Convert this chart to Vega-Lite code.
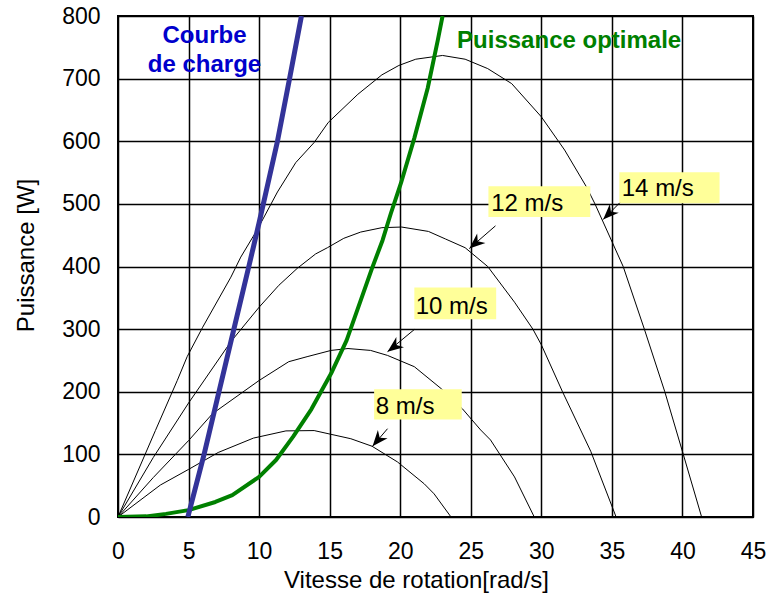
{
  "$schema": "https://vega.github.io/schema/vega-lite/v6.json",
  "width": 635,
  "height": 501,
  "autosize": {"type": "none"},
  "padding": {"left": 118, "top": 16, "right": 20, "bottom": 78},
  "background": "white",
  "config": {
    "font": "Liberation Sans",
    "view": {"stroke": "black", "strokeWidth": 2},
    "axis": {
      "grid": true, "gridColor": "black", "gridOpacity": 1, "gridWidth": 1.5,
      "domain": false, "ticks": false, "tickSize": 0,
      "labelFont": "Liberation Sans", "labelFontSize": 23, "labelColor": "black",
      "titleFont": "Liberation Sans", "titleFontSize": 24, "titleFontWeight": "normal", "titleColor": "black"
    }
  },
  "datasets": {
    "courbes": [
      {"serie": "8 m/s", "w": 0, "p": 0}, {"serie": "8 m/s", "w": 3.0, "p": 51}, {"serie": "8 m/s", "w": 5, "p": 76},
      {"serie": "8 m/s", "w": 7.1, "p": 103}, {"serie": "8 m/s", "w": 9.6, "p": 126}, {"serie": "8 m/s", "w": 11.9, "p": 137.5},
      {"serie": "8 m/s", "w": 13.9, "p": 138}, {"serie": "8 m/s", "w": 16.5, "p": 125}, {"serie": "8 m/s", "w": 18.0, "p": 113},
      {"serie": "8 m/s", "w": 19.8, "p": 88}, {"serie": "8 m/s", "w": 21.7, "p": 53}, {"serie": "8 m/s", "w": 22.4, "p": 37},
      {"serie": "8 m/s", "w": 23.6, "p": 0},

      {"serie": "10 m/s", "w": 0, "p": 0}, {"serie": "10 m/s", "w": 2.5, "p": 63}, {"serie": "10 m/s", "w": 5, "p": 122},
      {"serie": "10 m/s", "w": 6.7, "p": 165}, {"serie": "10 m/s", "w": 10, "p": 218}, {"serie": "10 m/s", "w": 12.1, "p": 248},
      {"serie": "10 m/s", "w": 13.4, "p": 256}, {"serie": "10 m/s", "w": 15.1, "p": 266}, {"serie": "10 m/s", "w": 16.3, "p": 269},
      {"serie": "10 m/s", "w": 17.9, "p": 266}, {"serie": "10 m/s", "w": 19.1, "p": 258}, {"serie": "10 m/s", "w": 21.0, "p": 240},
      {"serie": "10 m/s", "w": 22.9, "p": 205}, {"serie": "10 m/s", "w": 24.4, "p": 173}, {"serie": "10 m/s", "w": 25.7, "p": 139},
      {"serie": "10 m/s", "w": 26.4, "p": 123}, {"serie": "10 m/s", "w": 28.1, "p": 64}, {"serie": "10 m/s", "w": 29.5, "p": 0},

      {"serie": "12 m/s", "w": 0, "p": 0}, {"serie": "12 m/s", "w": 2.5, "p": 95}, {"serie": "12 m/s", "w": 5, "p": 182},
      {"serie": "12 m/s", "w": 8, "p": 280}, {"serie": "12 m/s", "w": 10, "p": 335}, {"serie": "12 m/s", "w": 11.4, "p": 370},
      {"serie": "12 m/s", "w": 12.7, "p": 397}, {"serie": "12 m/s", "w": 14.0, "p": 420}, {"serie": "12 m/s", "w": 14.84, "p": 430},
      {"serie": "12 m/s", "w": 16.0, "p": 445}, {"serie": "12 m/s", "w": 17.2, "p": 455}, {"serie": "12 m/s", "w": 18.7, "p": 462},
      {"serie": "12 m/s", "w": 20.1, "p": 463}, {"serie": "12 m/s", "w": 22.0, "p": 456}, {"serie": "12 m/s", "w": 23.2, "p": 444},
      {"serie": "12 m/s", "w": 24.6, "p": 430}, {"serie": "12 m/s", "w": 26.2, "p": 400}, {"serie": "12 m/s", "w": 28.1, "p": 343},
      {"serie": "12 m/s", "w": 29.4, "p": 300}, {"serie": "12 m/s", "w": 30.0, "p": 275}, {"serie": "12 m/s", "w": 31.5, "p": 200},
      {"serie": "12 m/s", "w": 33.5, "p": 105}, {"serie": "12 m/s", "w": 35.3, "p": 0},

      {"serie": "14 m/s", "w": 0, "p": 0}, {"serie": "14 m/s", "w": 2.65, "p": 138}, {"serie": "14 m/s", "w": 4.2, "p": 218},
      {"serie": "14 m/s", "w": 4.9, "p": 256}, {"serie": "14 m/s", "w": 6.0, "p": 303}, {"serie": "14 m/s", "w": 8.0, "p": 383},
      {"serie": "14 m/s", "w": 8.7, "p": 415}, {"serie": "14 m/s", "w": 9.9, "p": 460}, {"serie": "14 m/s", "w": 11.3, "p": 519},
      {"serie": "14 m/s", "w": 12.6, "p": 566}, {"serie": "14 m/s", "w": 13.9, "p": 598}, {"serie": "14 m/s", "w": 14.9, "p": 630},
      {"serie": "14 m/s", "w": 17.0, "p": 675}, {"serie": "14 m/s", "w": 18.7, "p": 706}, {"serie": "14 m/s", "w": 19.9, "p": 721},
      {"serie": "14 m/s", "w": 21.1, "p": 731}, {"serie": "14 m/s", "w": 23.0, "p": 737}, {"serie": "14 m/s", "w": 24.6, "p": 731},
      {"serie": "14 m/s", "w": 26.2, "p": 716}, {"serie": "14 m/s", "w": 27.9, "p": 692}, {"serie": "14 m/s", "w": 30.0, "p": 639},
      {"serie": "14 m/s", "w": 31.65, "p": 586}, {"serie": "14 m/s", "w": 33.2, "p": 527}, {"serie": "14 m/s", "w": 33.8, "p": 500},
      {"serie": "14 m/s", "w": 35.8, "p": 400}, {"serie": "14 m/s", "w": 37.3, "p": 300}, {"serie": "14 m/s", "w": 38.75, "p": 200},
      {"serie": "14 m/s", "w": 40.06, "p": 100}, {"serie": "14 m/s", "w": 41.36, "p": 0},

      {"serie": "Puissance optimale", "w": 0, "p": 0}, {"serie": "Puissance optimale", "w": 2, "p": 1},
      {"serie": "Puissance optimale", "w": 3.4, "p": 5}, {"serie": "Puissance optimale", "w": 5, "p": 11},
      {"serie": "Puissance optimale", "w": 6.9, "p": 24}, {"serie": "Puissance optimale", "w": 8.1, "p": 35},
      {"serie": "Puissance optimale", "w": 10, "p": 64}, {"serie": "Puissance optimale", "w": 11.2, "p": 91},
      {"serie": "Puissance optimale", "w": 12.4, "p": 128}, {"serie": "Puissance optimale", "w": 13.7, "p": 172},
      {"serie": "Puissance optimale", "w": 15.1, "p": 229}, {"serie": "Puissance optimale", "w": 16.2, "p": 282},
      {"serie": "Puissance optimale", "w": 18.0, "p": 397},
      {"serie": "Puissance optimale", "w": 18.75, "p": 442}, {"serie": "Puissance optimale", "w": 19.34, "p": 485},
      {"serie": "Puissance optimale", "w": 20.05, "p": 533}, {"serie": "Puissance optimale", "w": 21.0, "p": 605},
      {"serie": "Puissance optimale", "w": 21.95, "p": 685}, {"serie": "Puissance optimale", "w": 22.66, "p": 761},
      {"serie": "Puissance optimale", "w": 23.0, "p": 800},

      {"serie": "Courbe de charge", "w": 4.95, "p": 0}, {"serie": "Courbe de charge", "w": 6.1, "p": 100},
      {"serie": "Courbe de charge", "w": 8.0, "p": 280}, {"serie": "Courbe de charge", "w": 9.25, "p": 398},
      {"serie": "Courbe de charge", "w": 10.0, "p": 470}, {"serie": "Courbe de charge", "w": 11.3, "p": 600},
      {"serie": "Courbe de charge", "w": 12.2, "p": 705}, {"serie": "Courbe de charge", "w": 13.0, "p": 800}
    ],
    "etiquettes": [
      {"label": "14 m/s", "x1": 35.53, "x2": 42.63, "y1": 500.8, "y2": 550.3, "tx": 35.7, "ty": 512, "ax": 35.55, "ay": 501.6, "hx": 34.38, "hy": 475},
      {"label": "12 m/s", "x1": 26.25, "x2": 33.47, "y1": 479.2, "y2": 528.3, "tx": 26.45, "ty": 488.8, "ax": 26.75, "ay": 464.9, "hx": 24.9, "hy": 428.7},
      {"label": "10 m/s", "x1": 21.0, "x2": 26.8, "y1": 315.8, "y2": 366.5, "tx": 21.1, "ty": 324.9, "ax": 21.0, "ay": 299.4, "hx": 19.1, "hy": 264},
      {"label": "8 m/s", "x1": 18.15, "x2": 24.36, "y1": 155.6, "y2": 204, "tx": 18.27, "ty": 165, "ax": 19.1, "ay": 141, "hx": 18.04, "hy": 113}
    ],
    "notes_charge": [
      {"t": "Courbe", "x": 6.13, "y": 756.7},
      {"t": "de charge", "x": 6.13, "y": 711}
    ],
    "notes_opt": [
      {"t": "Puissance optimale", "x": 24.03, "y": 748.2}
    ]
  },
  "layer": [
    {
      "data": {"name": "courbes"},
      "transform": [{"filter": "datum.serie != 'Puissance optimale' && datum.serie != 'Courbe de charge'"}],
      "mark": {"type": "line", "color": "black", "strokeWidth": 1, "clip": true},
      "encoding": {
        "x": {
          "field": "w", "type": "quantitative",
          "scale": {"domain": [0, 45], "nice": false, "zero": false},
          "axis": {
            "title": "Vitesse de rotation[rad/s]",
            "values": [0, 5, 10, 15, 20, 25, 30, 35, 40, 45],
            "labelPadding": 41, "labelBaseline": "alphabetic", "labelFlush": false,
            "titleX": 298, "titleY": 70, "titleAlign": "center", "titleBaseline": "alphabetic"
          }
        },
        "y": {
          "field": "p", "type": "quantitative",
          "scale": {"domain": [0, 800], "nice": false, "zero": false},
          "axis": {
            "title": "Puissance [W]",
            "values": [0, 100, 200, 300, 400, 500, 600, 700, 800],
            "labelPadding": 18, "labelFlush": false,
            "titleX": -85, "titleY": 239, "titleAngle": 270, "titleAlign": "center", "titleBaseline": "alphabetic"
          }
        },
        "detail": {"field": "serie"}
      }
    },
    {
      "data": {"name": "courbes"},
      "transform": [{"filter": "datum.serie == 'Puissance optimale'"}],
      "mark": {"type": "line", "color": "#008000", "strokeWidth": 4, "clip": true, "strokeJoin": "round"},
      "encoding": {
        "x": {"field": "w", "type": "quantitative"},
        "y": {"field": "p", "type": "quantitative"}
      }
    },
    {
      "data": {"name": "courbes"},
      "transform": [{"filter": "datum.serie == 'Courbe de charge'"}],
      "mark": {"type": "line", "color": "#333399", "strokeWidth": 5, "clip": true},
      "encoding": {
        "x": {"field": "w", "type": "quantitative"},
        "y": {"field": "p", "type": "quantitative"}
      }
    },
    {
      "data": {"name": "etiquettes"},
      "mark": {"type": "rect", "color": "#ffff99", "opacity": 1},
      "encoding": {
        "x": {"field": "x1", "type": "quantitative"},
        "x2": {"field": "x2"},
        "y": {"field": "y1", "type": "quantitative"},
        "y2": {"field": "y2"}
      }
    },
    {
      "data": {"name": "etiquettes"},
      "mark": {"type": "text", "align": "left", "baseline": "alphabetic", "fontSize": 24, "color": "black", "font": "Liberation Sans"},
      "encoding": {
        "x": {"field": "tx", "type": "quantitative"},
        "y": {"field": "ty", "type": "quantitative"},
        "text": {"field": "label"}
      }
    },
    {
      "data": {"name": "etiquettes"},
      "mark": {"type": "rule", "color": "black", "strokeWidth": 1},
      "encoding": {
        "x": {"field": "ax", "type": "quantitative"},
        "y": {"field": "ay", "type": "quantitative"},
        "x2": {"field": "hx"},
        "y2": {"field": "hy"}
      }
    },
    {
      "data": {"name": "etiquettes"},
      "transform": [{"filter": "datum.label == '14 m/s'"}],
      "mark": {"type": "point", "shape": "M0,0L0.4,1L0,0.7L-0.4,1Z", "filled": true, "color": "black", "opacity": 1, "size": 1000, "angle": 225},
      "encoding": {
        "x": {"field": "hx", "type": "quantitative"},
        "y": {"field": "hy", "type": "quantitative"}
      }
    },
    {
      "data": {"name": "etiquettes"},
      "transform": [{"filter": "datum.label == '12 m/s'"}],
      "mark": {"type": "point", "shape": "M0,0L0.4,1L0,0.7L-0.4,1Z", "filled": true, "color": "black", "opacity": 1, "size": 1000, "angle": 229},
      "encoding": {
        "x": {"field": "hx", "type": "quantitative"},
        "y": {"field": "hy", "type": "quantitative"}
      }
    },
    {
      "data": {"name": "etiquettes"},
      "transform": [{"filter": "datum.label == '10 m/s'"}],
      "mark": {"type": "point", "shape": "M0,0L0.4,1L0,0.7L-0.4,1Z", "filled": true, "color": "black", "opacity": 1, "size": 1000, "angle": 233},
      "encoding": {
        "x": {"field": "hx", "type": "quantitative"},
        "y": {"field": "hy", "type": "quantitative"}
      }
    },
    {
      "data": {"name": "etiquettes"},
      "transform": [{"filter": "datum.label == '8 m/s'"}],
      "mark": {"type": "point", "shape": "M0,0L0.4,1L0,0.7L-0.4,1Z", "filled": true, "color": "black", "opacity": 1, "size": 1000, "angle": 220},
      "encoding": {
        "x": {"field": "hx", "type": "quantitative"},
        "y": {"field": "hy", "type": "quantitative"}
      }
    },
    {
      "data": {"name": "notes_charge"},
      "mark": {"type": "text", "align": "center", "baseline": "alphabetic", "fontSize": 24, "fontWeight": "bold", "color": "#0000cc", "font": "Liberation Sans"},
      "encoding": {
        "x": {"field": "x", "type": "quantitative"},
        "y": {"field": "y", "type": "quantitative"},
        "text": {"field": "t"}
      }
    },
    {
      "data": {"name": "notes_opt"},
      "mark": {"type": "text", "align": "left", "baseline": "alphabetic", "fontSize": 24, "fontWeight": "bold", "color": "#008000", "font": "Liberation Sans"},
      "encoding": {
        "x": {"field": "x", "type": "quantitative"},
        "y": {"field": "y", "type": "quantitative"},
        "text": {"field": "t"}
      }
    }
  ]
}
